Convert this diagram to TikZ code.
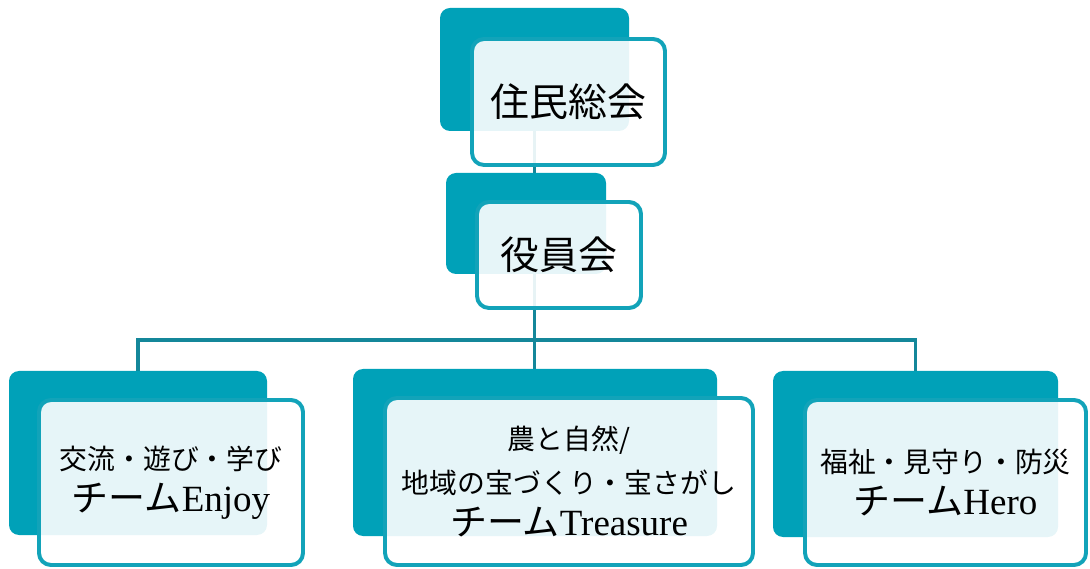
\documentclass[tikz,border=0pt]{standalone}
\usepackage{fontspec}
\setmainfont{Liberation Serif}
\newfontfamily\cjk{Noto Sans CJK JP}
\pgfdeclarelayer{background}
\pgfsetlayers{background,main}
\definecolor{tealdark}{HTML}{00A1B8}
\definecolor{tealedge}{HTML}{12A3B9}
\definecolor{tealline}{HTML}{14879A}
\tikzset{
  back/.style={fill=tealdark, draw=none, rounded corners=0.25cm, inner sep=0pt},
  front/.style={draw=tealedge, line width=2.8pt, fill=white, fill opacity=0.9, text opacity=1,
    rounded corners=0.3cm, inner sep=0pt, align=center},
  link/.style={draw=tealline, line width=2.8pt},
  big/.style={font=\fontsize{27.7}{33}\selectfont\cjk},
}
\newcommand{\smallj}[1]{{\fontsize{19.8}{24}\selectfont\cjk #1}}
\newcommand{\largej}[2]{{\fontsize{26.3}{30}\selectfont{\cjk #1}#2}}
\begin{document}
\begin{tikzpicture}[x=0.025cm, y=-0.025cm]
\useasboundingbox (0,0) rectangle (1090,569);
% level 1
\node[back, minimum width=189*0.025cm, minimum height=123*0.025cm] (d1) at (534.5,69.5) {};
\node[front, big, minimum width=193*0.025cm, minimum height=126*0.025cm] (f1) at (568.5,102) {住民総会};
% level 2
\node[back, minimum width=160*0.025cm, minimum height=101*0.025cm] (d2) at (526,223.5) {};
\node[front, big, minimum width=164*0.025cm, minimum height=106*0.025cm] (f2) at (559,255) {役員会};
% level 3
\node[back, minimum width=258*0.025cm, minimum height=164*0.025cm] (d3) at (138,453) {};
\node[front, minimum width=264*0.025cm, minimum height=165*0.025cm] (f3) at (171,482.5)
  {\smallj{交流・遊び・学び}\\[7pt]\largej{チーム}{Enjoy}};
\node[back, minimum width=364*0.025cm, minimum height=167*0.025cm] (d4) at (535,452.5) {};
\node[front, minimum width=368*0.025cm, minimum height=167*0.025cm] (f4) at (569,481.5)
  {\smallj{農と自然/}\\[10pt]\smallj{地域の宝づくり・宝さがし}\\[7pt]\largej{チーム}{Treasure}};
\node[back, minimum width=285*0.025cm, minimum height=166*0.025cm] (d5) at (915.5,454) {};
\node[front, minimum width=281*0.025cm, minimum height=165*0.025cm] (f5) at (945.5,482.5)
  {\smallj{福祉・見守り・防災}\\[7pt]\largej{チーム}{Hero}};
\coordinate (bar) at (534.5,340);
\begin{pgfonlayer}{background}
  \draw[link] (d1.center) -- (bar);
  \draw[link] (d3.center) |- (bar) -| (d5.center);
  \draw[link] (bar) -- (bar |- d4.center);
\end{pgfonlayer}
\end{tikzpicture}
\end{document}
